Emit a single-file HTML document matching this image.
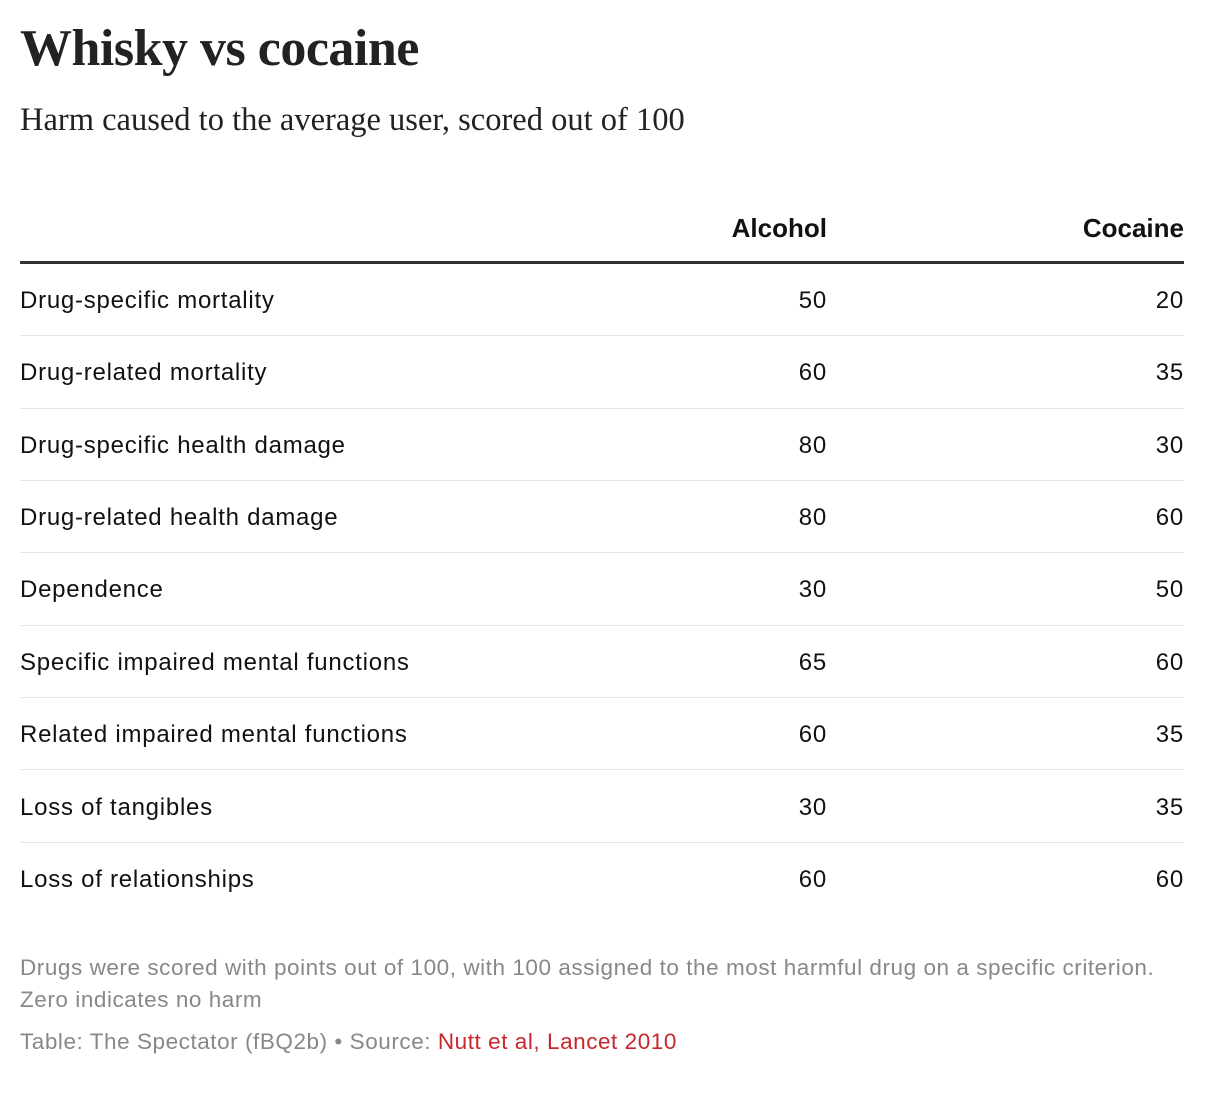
<!DOCTYPE html>
<html><head><meta charset="utf-8"><style>
body{margin:0;width:1226px;height:1094px;background:#fff;position:relative;font-family:"Liberation Sans",Arial,sans-serif;color:#111;}
.a{position:absolute;white-space:nowrap;}
h1{position:absolute;left:20px;top:19px;margin:0;font-family:"Liberation Serif",serif;font-weight:bold;font-size:52px;line-height:60px;color:#222;letter-spacing:-0.5px}
.sub{left:20px;top:100px;font-family:"Liberation Serif",serif;font-size:32.5px;line-height:40px;color:#222}
.hd{top:212px;font-weight:bold;font-size:26px;line-height:32px;color:#111}
.r{font-size:24px;line-height:30px;letter-spacing:0.75px}
.ln{position:absolute;left:20px;width:1164px;height:1px;background:#e4e4e4}
.ft{left:20px;font-size:22.5px;line-height:30px;color:#888;letter-spacing:0.55px}
</style></head><body>
<h1>Whisky vs cocaine</h1>
<div class="a sub">Harm caused to the average user, scored out of 100</div>
<div class="a hd" style="right:399px">Alcohol</div>
<div class="a hd" style="right:42px">Cocaine</div>
<div style="position:absolute;left:20px;top:261px;width:1164px;height:3px;background:#333"></div>
<div class="a r" style="left:20px;top:286px">Drug-specific mortality</div><div class="a r" style="right:399px;top:286px">50</div><div class="a r" style="right:42px;top:286px">20</div>
<div class="ln" style="top:335px"></div>
<div class="a r" style="left:20px;top:358px">Drug-related mortality</div><div class="a r" style="right:399px;top:358px">60</div><div class="a r" style="right:42px;top:358px">35</div>
<div class="ln" style="top:408px"></div>
<div class="a r" style="left:20px;top:431px">Drug-specific health damage</div><div class="a r" style="right:399px;top:431px">80</div><div class="a r" style="right:42px;top:431px">30</div>
<div class="ln" style="top:480px"></div>
<div class="a r" style="left:20px;top:503px">Drug-related health damage</div><div class="a r" style="right:399px;top:503px">80</div><div class="a r" style="right:42px;top:503px">60</div>
<div class="ln" style="top:552px"></div>
<div class="a r" style="left:20px;top:575px">Dependence</div><div class="a r" style="right:399px;top:575px">30</div><div class="a r" style="right:42px;top:575px">50</div>
<div class="ln" style="top:625px"></div>
<div class="a r" style="left:20px;top:648px">Specific impaired mental functions</div><div class="a r" style="right:399px;top:648px">65</div><div class="a r" style="right:42px;top:648px">60</div>
<div class="ln" style="top:697px"></div>
<div class="a r" style="left:20px;top:720px">Related impaired mental functions</div><div class="a r" style="right:399px;top:720px">60</div><div class="a r" style="right:42px;top:720px">35</div>
<div class="ln" style="top:769px"></div>
<div class="a r" style="left:20px;top:793px">Loss of tangibles</div><div class="a r" style="right:399px;top:793px">30</div><div class="a r" style="right:42px;top:793px">35</div>
<div class="ln" style="top:842px"></div>
<div class="a r" style="left:20px;top:865px">Loss of relationships</div><div class="a r" style="right:399px;top:865px">60</div><div class="a r" style="right:42px;top:865px">60</div>
<div class="a ft" style="top:953px">Drugs were scored with points out of 100, with 100 assigned to the most harmful drug on a specific criterion.</div>
<div class="a ft" style="top:985px">Zero indicates no harm</div>
<div class="a ft" style="top:1027px">Table: The Spectator (fBQ2b) • Source: <span style="color:#c8252c">Nutt et al, Lancet 2010</span></div>
</body></html>
